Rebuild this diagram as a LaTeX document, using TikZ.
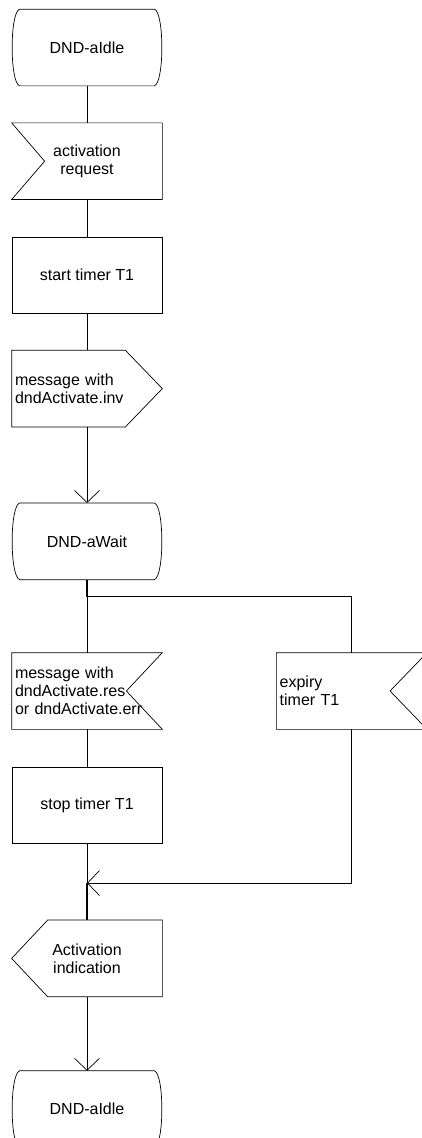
\documentclass[tikz,border=0pt]{standalone}
\usepackage{fontspec}
\setmainfont{Liberation Sans}
\usetikzlibrary{positioning}
\usetikzlibrary{arrows.meta}

\begin{document}
\begin{tikzpicture}[x=1pt,y=-1pt,node distance=37pt,
>={Straight Barb[length=12pt,width=25pt]},line width=0.7pt]
\tikzset{symbole/.style={minimum width=150pt,minimum height=76pt,inner sep=0pt,
font=\fontsize{16}{18}\selectfont,align=center},
gauche/.style={symbole,text width=144pt,align=left},
tache/.style={symbole,draw}}
\useasboundingbox (0,0) rectangle (422,1138);
% noeuds
\node [symbole] (idle) at (87,47.5) {DND-aIdle};
\node [symbole,below=of idle] (req) {\hspace*{0pt}activation\\request};
\node [tache,below=of req] (start) {start timer T1};
\node [gauche,below=of start] (inv) {message with\\dndActivate.inv};
\node [symbole,below=76pt of inv] (wait) {DND-aWait};
\node [gauche,below=73pt of wait] (res) {message with\\dndActivate.res\\or dndActivate.err};
\node [gauche,right=114pt of res] (exp) {expiry\\timer T1};
\node [tache,below=38pt of res] (stop) {stop timer T1};
\node [symbole,below=76pt of stop] (ind) {Activation\\indication};
\node [symbole,below=74pt of ind] (idle2) {DND-aIdle};
\coordinate [below=17pt of wait] (fork);
\coordinate [below=39pt of stop] (join);
% contours
\foreach \s in {idle,wait,idle2}
\draw ([xshift=8pt]\s.north west) -- ([xshift=-8pt]\s.north east)
.. controls ([xshift=2pt,yshift=-3pt]\s.north east) and ([xshift=2pt,yshift=3pt]\s.south east) .. ([xshift=-8pt]\s.south east)
-- ([xshift=8pt]\s.south west)
.. controls ([xshift=-2pt,yshift=3pt]\s.south west) and ([xshift=-2pt,yshift=-3pt]\s.north west) .. cycle;
\draw (req.north west) -- (req.north east) -- (req.south east) -- (req.south west) -- ([xshift=33pt]req.west) -- cycle;
\draw (inv.north west) -- ([xshift=-37pt]inv.north east) -- (inv.east) -- ([xshift=-37pt]inv.south east) -- (inv.south west) -- cycle;
\draw (res.north west) -- (res.north east) -- ([xshift=-36pt]res.east) -- (res.south east) -- (res.south west) -- cycle;
\draw (exp.north west) -- (exp.north east) -- ([xshift=-37pt]exp.east) -- (exp.south east) -- (exp.south west) -- cycle;
\draw (ind.west) -- ([xshift=36pt]ind.north west) -- (ind.north east) -- (ind.south east) -- ([xshift=36pt]ind.south west) -- cycle;
% liens
\draw (idle) -- (req);
\draw (req) -- (start);
\draw (start) -- (inv);
\draw [->] (inv) -- (wait);
\draw [line width=1.2pt] (wait.south) -- (fork);
\draw (fork) -- (res.north);
\draw (fork) -| (exp.north);
\draw (res) -- (stop);
\draw (stop.south) -- (join);
\draw [->] (exp.south) |- (join);
\draw [line width=1.2pt] (join) -- (ind.north);
\draw [->] (ind) -- (idle2);
\end{tikzpicture}
\end{document}
